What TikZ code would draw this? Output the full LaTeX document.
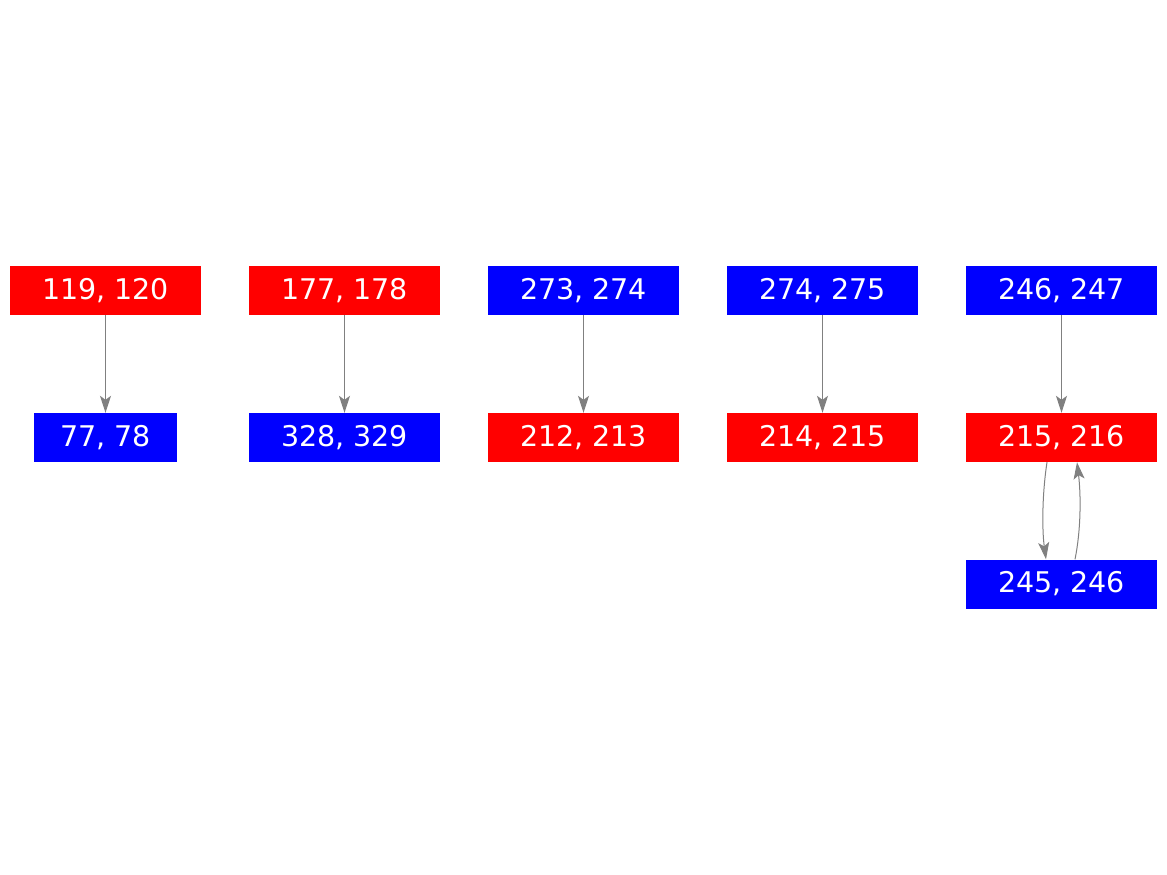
\documentclass[tikz,border=0pt]{standalone}
\usepackage{fontspec}
\setmainfont{DejaVu Sans}
\usetikzlibrary{arrows.meta}
\begin{document}
\begin{tikzpicture}[x=1pt,y=-1pt,
  box/.style={minimum height=49pt,inner sep=0pt,text=white,
    font=\fontsize{28.5}{33}\selectfont},
  wide/.style={box,minimum width=191pt},
  rbox/.style={fill=red},
  bbox/.style={fill=blue},
  edge/.style={draw=gray,line width=1pt,-{Stealth[length=17pt,width=11pt,inset=4pt]}}]
\useasboundingbox (0,0) rectangle (1167,875);
\node[wide,rbox] (a1) at (105.5,290.5) {119, 120};
\node[box,bbox,minimum width=143pt] (a2) at (105.5,437.5) {77, 78};
\node[wide,rbox] (b1) at (344.5,290.5) {177, 178};
\node[wide,bbox] (b2) at (344.5,437.5) {328, 329};
\node[wide,bbox] (c1) at (583.5,290.5) {273, 274};
\node[wide,rbox] (c2) at (583.5,437.5) {212, 213};
\node[wide,bbox] (d1) at (822.5,290.5) {274, 275};
\node[wide,rbox] (d2) at (822.5,437.5) {214, 215};
\node[wide,bbox] (e1) at (1061.5,290.5) {246, 247};
\node[wide,rbox] (e2) at (1061.5,437.5) {215, 216};
\node[wide,bbox] (e3) at (1061.5,584) {245, 246};
\draw[edge] (a1) -- (a2);
\draw[edge] (b1) -- (b2);
\draw[edge] (c1) -- (c2);
\draw[edge] (d1) -- (d2);
\draw[edge] (e1) -- (e2);
\draw[edge] ([xshift=-14.5pt]e2.south) .. controls (1042,495) and (1042,530) .. ([xshift=-15.5pt]e3.north);
\draw[edge] ([xshift=13.5pt]e3.north) .. controls (1081,530) and (1081,495) .. ([xshift=15.5pt]e2.south);
\end{tikzpicture}
\end{document}
